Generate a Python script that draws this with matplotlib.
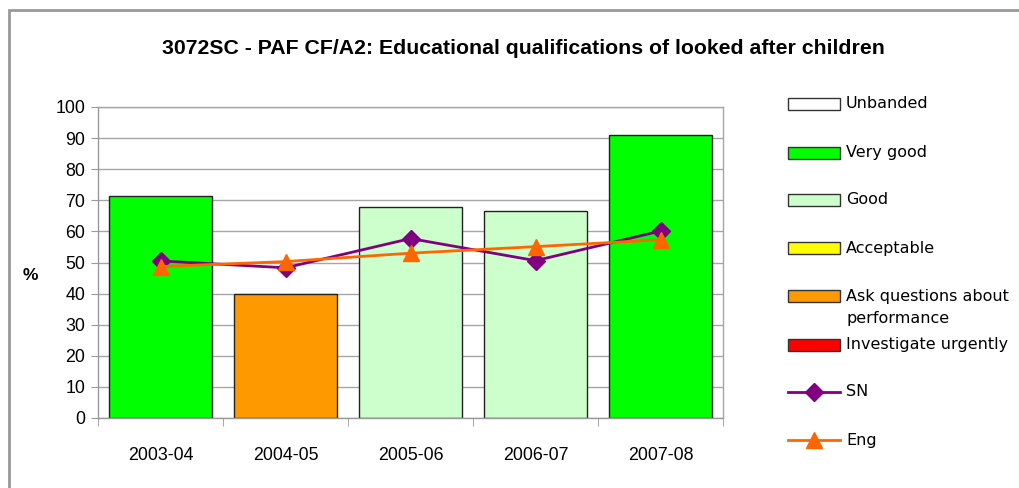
import matplotlib
matplotlib.use("Agg")
import matplotlib.pyplot as plt
from matplotlib.patches import Rectangle
from matplotlib.lines import Line2D

# Data
years = ["2003-04", "2004-05", "2005-06", "2006-07", "2007-08"]
values = [71.3, 40.0, 68.0, 66.7, 90.9]
bands = ["Very good", "Ask questions about\nperformance", "Good", "Good", "Very good"]
sn = [50.5, 48.3, 57.7, 50.6, 60.1]
eng = [48.7, 50.3, 53.0, 55.1, 57.3]

band_names = ["Unbanded", "Very good", "Good", "Acceptable",
              "Ask questions about\nperformance", "Investigate urgently"]
band_colors = ["#FFFFFF", "#00FF00", "#CCFFCC", "#FFFF00", "#FF9900", "#FF0000"]
color_of = dict(zip(band_names, band_colors))

W, H = 1020, 488
DPI = 100
fig = plt.figure(figsize=(W / DPI, H / DPI), dpi=DPI)
fig.patch.set_facecolor("white")


def fx(x):
    return x / W


def fy(y):
    return 1 - y / H


# outer chart border
fig.patches.append(Rectangle((fx(9), fy(H + 20)), fx(W + 20), fy(10) - fy(H + 20),
                             transform=fig.transFigure, fill=False,
                             edgecolor="#999999", linewidth=2))

ax = fig.add_axes([fx(98), fy(418), fx(723 - 98), fy(107) - fy(418)])
x = list(range(len(years)))
ax.bar(x, values, width=0.83, color=[color_of[b] for b in bands],
       edgecolor="#222222", linewidth=1, zorder=2)
ax.plot(x, sn, color="#800080", linewidth=2, marker="D", markersize=9,
        zorder=3)
ax.plot(x, eng, color="#FF6600", linewidth=2, marker="^", markersize=11,
        zorder=4)

ax.set_xlim(-0.5, len(years) - 0.5)
ax.set_ylim(0, 100)
ax.set_yticks(range(0, 101, 10))
ax.set_xticks(x)
ax.set_xticklabels(years)
ax.set_xticks([i - 0.5 for i in range(len(years) + 1)], minor=True)
ax.tick_params(axis="x", which="major", length=0, pad=21, labelsize=12.8)
ax.tick_params(axis="x", which="minor", length=6, color="#999999", direction="out")
ax.tick_params(axis="y", length=5, color="#999999", direction="out", pad=4,
               labelsize=12.8)
for lab in ax.get_xticklabels() + ax.get_yticklabels():
    lab.set_fontfamily("Liberation Sans")
ax.grid(axis="y", color="#A6A6A6", linewidth=1, zorder=0)
ax.set_axisbelow(True)
for s in ax.spines.values():
    s.set_color("#A6A6A6")
    s.set_linewidth(1)
ax.spines["left"].set_color("#999999")
ax.spines["bottom"].set_color("#999999")

fig.text(fx(30), fy(275), "%", fontsize=12.5, fontweight="bold",
         family="Liberation Sans", ha="center", va="center")
fig.text(fx(523), fy(49), "3072SC - PAF CF/A2: Educational qualifications of looked after children",
         fontsize=15.3, fontweight="bold", family="Liberation Sans",
         ha="center", va="center")

# legend
leg_y = [104, 153, 200, 248, 296, 345]
for name, col, y in zip(band_names, band_colors, leg_y):
    fig.patches.append(Rectangle((fx(788), fy(y + 6)), fx(52), fy(y - 6) - fy(y + 6),
                                 transform=fig.transFigure, facecolor=col,
                                 edgecolor="#333333", linewidth=1))
    for i, line in enumerate(name.split("\n")):
        fig.text(fx(846), fy(y + i * 23), line, fontsize=11.5, family="DejaVu Sans",
                 ha="left", va="center")

for y, col, mk, ms, name in [(392, "#800080", "D", 9, "SN"),
                             (440, "#FF6600", "^", 11, "Eng")]:
    fig.lines.append(Line2D([fx(788), fx(840)], [fy(y), fy(y)],
                            transform=fig.transFigure, color=col, linewidth=2))
    fig.lines.append(Line2D([fx(814)], [fy(y)], transform=fig.transFigure,
                            color=col, marker=mk, markersize=ms, linestyle="none"))
    fig.text(fx(846), fy(y), name, fontsize=11.5, family="DejaVu Sans",
             ha="left", va="center")

fig.savefig("out.png", dpi=DPI, facecolor="white")
